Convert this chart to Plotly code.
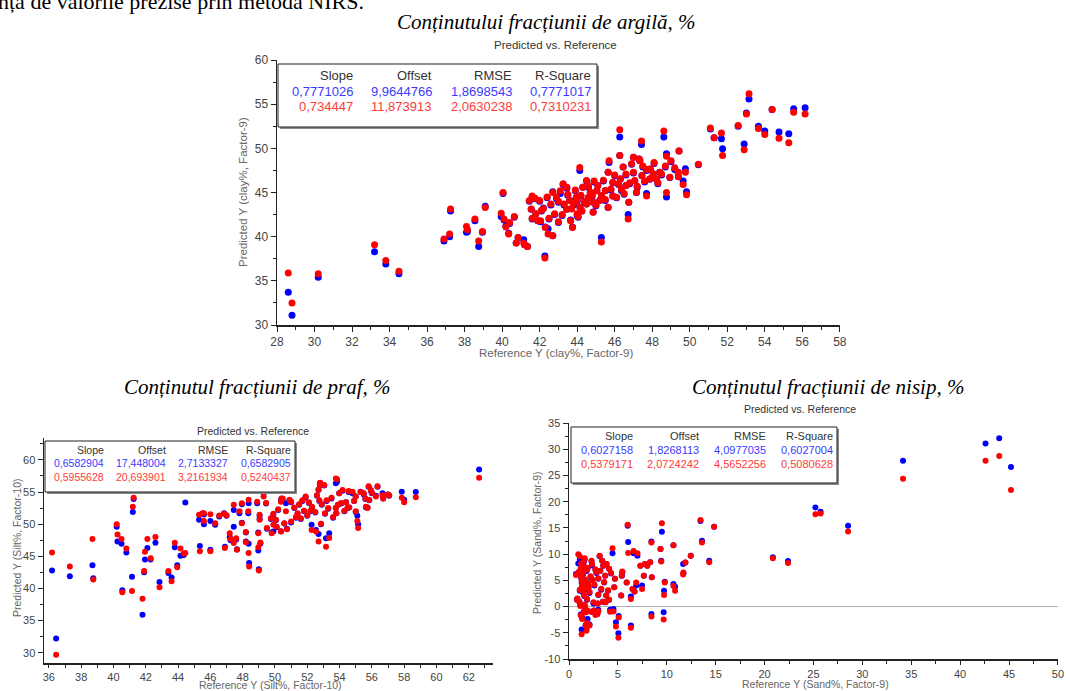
import plotly.graph_objects as go

# ---------------- DATA ----------------
# Clay (argilă): reference, predicted (calibration = blue), predicted (validation = red)
clay_ref = [
    28.6, 28.8, 30.2, 33.2, 33.8, 34.5, 36.9, 37.2, 37.25, 38.1,
    38.15, 38.55, 38.75, 38.95, 39.1, 39.95, 40.05, 40.1, 40.2, 40.35,
    40.4, 40.65, 40.75, 40.85, 41.15, 41.2, 41.35, 41.45, 41.55, 41.6,
    41.75, 41.8, 41.9, 42.0, 42.05, 42.2, 42.28, 42.3, 42.45, 42.6,
    42.7, 42.8, 42.9, 43.1, 43.25, 43.3, 43.45, 43.45, 43.6, 43.65,
    43.7, 43.75, 43.95, 44.0, 44.05, 44.14, 44.15, 44.3, 44.5, 44.5,
    44.6, 44.7, 44.85, 44.85, 45.1, 45.2, 45.3, 45.29, 45.5, 45.65,
    45.65, 45.7, 45.9, 46.1, 46.27, 46.27, 46.3, 46.36, 46.45, 46.6,
    46.72, 46.75, 46.9, 47.0, 47.07, 47.16, 47.3, 47.34, 47.43, 47.45,
    47.7, 47.7, 47.87, 48.05, 48.23, 48.4, 48.62, 48.76, 48.76, 48.94,
    49.38, 49.4, 49.43, 49.65, 49.77, 49.83, 50.46, 51.1, 51.3, 51.69,
    51.75, 52.58, 52.9, 53.02, 53.16, 53.66, 54.0, 54.39, 54.76, 55.28,
    55.54, 56.15, 43.0, 43.2, 43.5, 43.8, 43.9, 44.0, 44.2, 44.25,
    44.4, 44.6, 44.8, 44.9, 45.0, 45.05, 45.4, 45.5, 45.8, 45.9,
    46.0, 46.2, 46.5, 46.6, 46.8, 47.0, 47.2, 47.5, 47.6, 47.9,
    48.1, 48.3, 48.5, 48.7, 49.0, 49.2, 43.0, 42.5, 42.1, 41.6,
    42.4, 42.7,
]
clay_cal = [
    33.7, 31.1, 35.4, 38.3, 36.9, 35.8, 39.5, 40.0, 42.9, 40.5,
    40.6, 41.8, 38.9, 40.5, 43.45, 42.3, 44.9, 41.9, 41.2, 40.4,
    41.5, 42.2, 39.3, 39.9, 39.65, 39.1, 38.9, 44.0, 43.1, 42.0,
    44.3, 42.6, 41.8, 44.0, 41.7, 43.26, 37.8, 41.1, 40.9, 43.6,
    40.1, 42.5, 44.3, 44.9, 45.9, 43.6, 45.5, 43.1, 44.1, 41.9,
    43.2, 41.1, 44.4, 42.4, 42.2, 47.5, 43.3, 45.6, 46.3, 43.7,
    44.4, 45.0, 43.9, 42.8, 45.8, 44.1, 44.5, 39.9, 45.2, 47.3,
    43.3, 48.4, 46.1, 44.4, 51.3, 49.2, 46.5, 45.23, 47.9, 45.8,
    42.5, 43.9, 48.2, 49.0, 46.3, 45.0, 48.8, 48.6, 50.45, 46.9,
    47.5, 44.9, 46.5, 47.1, 46.5, 47.3, 51.3, 49.4, 44.5, 46.7,
    47.3, 46.8, 49.7, 46.3, 47.7, 45.1, 48.15, 52.2, 51.2, 51.1,
    49.97, 52.5, 50.5, 54.0, 55.6, 52.5, 51.97, 54.4, 51.85, 51.67,
    54.5, 54.6, 43.9, 42.4, 44.7, 43.6, 45.2, 44.0, 44.6, 42.9,
    43.9, 45.6, 44.6, 46.2, 43.5, 45.2, 46.3, 44.1, 45.3, 44.6,
    46.9, 45.9, 44.8, 47.0, 46.0, 47.2, 45.6, 47.9, 46.2, 47.6,
    48.3, 46.0, 47.0, 47.9, 48.5, 47.6, 41.6, 42.0, 42.9, 44.5,
    44.4, 45.1,
]
clay_val = [
    35.9, 32.5, 35.8, 39.1, 37.3, 36.1, 39.75, 40.3, 43.15, 41.15,
    40.8, 42.0, 39.5, 40.6, 43.3, 42.65, 45.0, 42.0, 41.1, 40.3,
    41.6, 42.3, 39.3, 39.9, 39.3, 39.1, 38.9, 44.1, 43.15, 42.1,
    44.35, 42.6, 41.8, 44.1, 41.8, 43.2, 37.6, 41.05, 40.3, 43.7,
    40.1, 42.6, 44.46, 45.2, 46.0, 43.7, 45.6, 43.15, 44.1, 41.8,
    43.15, 41.05, 44.46, 42.6, 42.3, 47.84, 43.33, 45.6, 46.36, 43.7,
    44.46, 45.03, 43.9, 42.76, 45.8, 44.1, 44.66, 39.4, 45.23, 47.3,
    43.33, 48.6, 46.17, 44.46, 52.1, 49.2, 46.55, 45.4, 47.88, 45.8,
    42.0, 43.9, 48.26, 49.0, 46.36, 45.03, 48.8, 48.64, 50.85, 46.93,
    47.6, 44.6, 46.55, 47.12, 46.55, 47.31, 51.97, 49.1, 45.0, 46.74,
    47.3, 46.8, 49.7, 45.9, 47.3, 44.75, 48.2, 52.3, 51.2, 51.75,
    49.2, 52.58, 49.85, 53.9, 56.2, 52.24, 51.56, 54.4, 51.14, 50.65,
    54.1, 53.9, 44.0, 42.5, 44.8, 43.7, 45.3, 44.1, 44.7, 42.9,
    44.0, 45.7, 44.7, 46.3, 43.6, 45.2, 46.4, 44.2, 45.4, 44.6,
    47.0, 46.0, 44.9, 47.1, 46.1, 47.3, 45.7, 48.0, 46.3, 47.7,
    48.4, 46.1, 47.1, 48.0, 48.6, 47.8, 41.7, 42.1, 43.0, 44.6,
    44.5, 45.0,
]

# Silt (praf)
silt_ref = [
    36.2, 36.45, 37.3, 38.7, 38.75, 40.2, 40.25, 40.5, 40.55, 40.8,
    41.15, 41.2, 41.25, 41.8, 41.9, 41.95, 42.1, 42.3, 42.6, 42.85,
    43.4, 43.6, 43.8, 43.95, 44.15, 44.35, 44.45, 45.3, 45.35, 45.6,
    45.6, 46.0, 46.0, 46.3, 46.55, 46.85, 46.9, 47.2, 47.25, 47.45,
    47.45, 47.6, 47.65, 47.8, 47.95, 47.95, 48.2, 48.2, 48.35, 48.37,
    48.4, 48.37, 48.9, 48.97, 48.97, 49.0, 49.05, 49.05, 49.1, 49.3,
    49.45, 49.5, 49.75, 49.8, 49.9, 50.06, 50.1, 50.37, 50.4, 50.37,
    50.58, 50.68, 50.74, 51.0, 51.0, 51.2, 51.4, 51.5, 51.6, 51.8,
    51.9, 52.0, 52.1, 52.27, 52.3, 52.5, 52.54, 52.6, 52.7, 52.78,
    52.8, 52.85, 52.9, 53.05, 53.1, 53.16, 53.3, 53.5, 53.6, 53.77,
    53.77, 53.8, 53.84, 53.98, 54.1, 54.18, 54.3, 54.4, 54.56, 54.6,
    54.8, 55.0, 55.1, 55.15, 55.3, 55.5, 55.63, 55.73, 55.8, 55.84,
    55.94, 56.0, 56.25, 56.35, 56.66, 56.7, 57.0, 57.07, 57.85, 58.0,
    58.72, 62.64, 47.0, 45.52, 49.9, 50.2, 50.47, 50.9, 52.7, 52.75,
    53.36, 54.5, 55.0, 51.3, 51.7, 52.2, 53.2, 53.9, 54.9, 55.6,
]
silt_cal = [
    42.8, 32.2, 41.9, 43.6, 41.6, 49.6, 47.3, 46.95, 39.7, 45.6,
    41.8, 51.9, 53.9, 35.9, 42.5, 44.5, 46.3, 44.5, 47.1, 41.0,
    42.4, 41.7, 46.4, 43.6, 45.1, 45.2, 53.35, 50.7, 46.6, 50.0,
    51.5, 50.5, 46.0, 49.9, 51.2, 51.7, 46.5, 48.0, 47.5, 49.6,
    52.2, 47.6, 46.1, 51.7, 53.1, 50.2, 48.7, 47.3, 51.7, 46.95,
    43.95, 53.25, 53.25, 48.7, 45.9, 43.0, 50.8, 51.3, 47.0, 54.8,
    53.2, 49.3, 50.8, 48.7, 48.86, 50.6, 49.5, 53.6, 53.9, 48.9,
    50.1, 53.25, 49.3, 50.25, 53.4, 52.5, 51.6, 53.0, 50.8, 52.0,
    54.2, 51.3, 53.3, 49.9, 52.6, 51.8, 49.1, 54.4, 48.45, 56.1,
    56.4, 50.0, 53.0, 56.0, 51.6, 47.8, 52.4, 54.0, 51.0, 56.35,
    52.5, 51.7, 56.6, 54.8, 53.2, 55.2, 52.0, 53.4, 55.0, 52.6,
    54.8, 54.3, 51.3, 50.0, 55.05, 54.6, 52.6, 52.6, 55.8, 53.7,
    55.2, 54.8, 54.4, 55.8, 54.8, 54.0, 54.6, 54.4, 55.05, 53.8,
    55.0, 58.5, 51.3, 51.6, 51.5, 52.2, 53.9, 53.7, 55.3, 53.6,
    48.6, 52.5, 51.9, 51.0, 53.6, 52.0, 53.6, 53.0, 53.6, 53.9,
]
silt_val = [
    45.6, 29.7, 43.4, 47.7, 41.4, 50.0, 48.4, 47.7, 39.4, 46.2,
    39.6, 52.7, 54.1, 38.4, 42.7, 45.7, 47.7, 44.7, 48.0, 40.2,
    42.7, 41.1, 47.1, 43.3, 46.2, 45.4, 45.5, 51.45, 45.8, 50.5,
    51.7, 51.55, 45.8, 50.15, 51.35, 51.6, 46.3, 48.6, 47.7, 47.05,
    53.0, 47.8, 46.0, 52.0, 53.25, 50.15, 48.76, 47.2, 52.0, 45.5,
    43.4, 53.8, 53.5, 48.6, 46.4, 42.8, 50.7, 51.45, 47.15, 54.3,
    53.3, 49.4, 50.9, 48.6, 49.9, 50.67, 49.6, 53.5, 54.0, 48.86,
    50.15, 52.0, 49.2, 50.4, 53.5, 52.6, 51.7, 53.1, 50.9, 52.1,
    54.3, 51.4, 53.4, 49.1, 52.7, 51.9, 48.86, 54.5, 47.3, 56.25,
    56.45, 50.05, 53.1, 56.1, 51.7, 46.5, 52.5, 54.1, 51.1, 57.1,
    52.5, 51.7, 57.0, 54.8, 53.3, 55.3, 52.1, 53.4, 55.15, 52.6,
    55.05, 54.3, 50.5, 49.4, 55.0, 54.8, 52.7, 52.5, 55.9, 53.77,
    55.3, 54.9, 54.3, 55.9, 54.5, 54.0, 54.6, 54.5, 54.1, 53.4,
    54.2, 57.2, 51.4, 51.7, 51.6, 52.3, 54.0, 53.8, 55.4, 53.7,
    47.83, 52.6, 52.0, 51.1, 53.7, 52.1, 53.7, 53.0, 53.6, 54.0,
]

# Sand (nisip)
sand_ref = [
    0.71, 0.82, 0.95, 1.1, 0.86, 1.06, 1.2, 1.25, 1.3, 1.35,
    1.29, 1.35, 1.4, 1.45, 1.5, 1.55, 1.6, 1.62, 1.65, 1.7,
    1.75, 1.78, 1.8, 1.83, 1.85, 1.9, 1.95, 2.1, 2.1, 2.2,
    2.3, 2.35, 2.3, 2.5, 2.56, 2.6, 2.7, 2.8, 2.9, 2.95,
    3.0, 3.13, 3.2, 3.3, 3.4, 3.46, 3.5, 3.7, 3.74, 3.8,
    3.84, 4.1, 4.1, 4.2, 4.45, 4.55, 4.63, 4.7, 4.8, 5.08,
    5.05, 5.34, 5.4, 5.45, 5.9, 6.0, 6.05, 6.33, 6.33, 6.5,
    6.6, 6.87, 6.7, 7.0, 7.3, 7.47, 7.65, 7.76, 8.0, 8.43,
    8.3, 8.47, 8.43, 9.36, 9.43, 9.5, 9.68, 9.79, 9.72, 10.68,
    10.68, 10.85, 11.67, 11.7, 11.9, 12.45, 13.45, 13.6, 14.34, 14.84,
    20.85, 22.4, 25.2, 25.73, 28.54, 34.16, 42.6, 44.0, 45.2, 1.0,
    1.1, 1.15, 1.2, 1.25, 1.4, 1.5, 1.6, 1.7, 1.75, 1.9,
    2.0, 2.4, 2.7, 3.0, 3.6, 4.3, 4.0, 3.0,
]
sand_cal = [
    6.2, 1.3, 8.2, 9.07, 1.5, 0.9, 7.0, 5.4, 4.6, 3.8,
    -4.35, -2.2, 2.8, 6.2, 8.3, 2.0, 0.2, 5.0, -0.5, -3.5,
    3.3, -4.4, 6.8, -2.45, 1.3, -2.35, 4.3, -3.4, 2.6, 5.6,
    8.6, 7.9, -1.0, 0.6, -0.76, 4.0, -1.2, 6.4, -1.4, 0.6,
    -0.6, 9.6, 6.85, 3.2, 8.75, 0.9, 7.8, 5.9, 0.8, 2.1,
    8.1, 7.2, 1.3, -0.6, 10.15, -0.45, 3.7, 5.3, -3.0, -1.8,
    -5.07, 2.1, 5.9, 6.5, 4.6, 15.4, 12.3, -3.6, 1.9, 3.36,
    10.15, 4.0, 2.85, 9.7, 7.8, 4.0, 5.9, 8.1, 7.8, 12.4,
    8.43, 5.6, -1.4, 11.0, 8.75, 14.27, -1.08, 4.75, 3.04, 11.7,
    4.3, 3.8, 8.1, 6.3, 8.4, 9.7, 16.3, 12.55, 8.75, 15.2,
    9.4, 8.7, 18.9, 18.06, 15.4, 27.8, 31.1, 32.1, 26.6, 6.5,
    3.0, 0.3, -1.5, 8.0, 7.5, -1.0, 9.0, 4.0, -0.9, 7.3,
    3.6, 5.0, 7.0, 5.3, 4.6, 6.3, 3.0, 2.2,
]
sand_val = [
    6.0, 1.3, 10.0, 9.6, 1.56, 0.9, 7.2, 5.6, 4.9, 4.0,
    -5.3, -2.35, 3.0, 6.4, 8.6, 2.2, 0.4, 5.2, -0.3, -3.72,
    3.5, -4.6, 7.0, -3.2, 1.5, -0.76, 4.5, -3.6, 2.8, 5.8,
    8.75, 8.1, -1.0, 0.8, -0.76, 4.2, -1.6, 6.6, -1.4, 0.6,
    -0.9, 9.7, 6.85, 3.4, 8.75, 0.9, 7.8, 5.9, 0.8, 2.1,
    8.1, 7.2, 1.3, -1.0, 11.1, -0.95, 3.7, 5.3, -3.8, -2.1,
    -5.96, 2.1, 5.9, 6.7, 4.6, 15.6, 10.2, -4.06, 1.46, 3.36,
    10.6, 4.6, 2.85, 10.15, 7.8, 3.36, 5.9, 8.1, 7.8, 12.24,
    8.43, 5.6, -1.9, 11.0, 8.6, 15.9, -2.47, 4.6, 2.2, 11.7,
    3.9, 3.0, 6.1, 6.5, 8.4, 9.7, 16.5, 12.24, 8.43, 15.2,
    9.2, 8.3, 17.6, 17.75, 14.33, 24.4, 27.8, 28.7, 22.25, 6.6,
    3.2, 0.1, -1.7, 8.2, 7.6, -1.2, 9.2, 4.2, -1.1, 7.4,
    3.8, 5.1, 7.1, 5.4, 4.7, 6.4, 3.1, 2.3,
]

stat_header = ["Slope", "Offset", "RMSE", "R-Square"]
clay_stats_cal = ["0,7771026", "9,9644766", "1,8698543", "0,7771017"]
clay_stats_val = ["0,734447", "11,873913", "2,0630238", "0,7310231"]
silt_stats_cal = ["0,6582904", "17,448004", "2,7133327", "0,6582905"]
silt_stats_val = ["0,5955628", "20,693901", "3,2161934", "0,5240437"]
sand_stats_cal = ["0,6027158", "1,8268113", "4,0977035", "0,6027004"]
sand_stats_val = ["0,5379171", "2,0724242", "4,5652256", "0,5080628"]

clay_xticks = list(range(28, 59, 2))
clay_yticks = list(range(30, 61, 5))
silt_xticks = list(range(36, 63, 2))
silt_yticks = list(range(30, 61, 5))
sand_xticks = list(range(0, 51, 5))
sand_yticks = list(range(-10, 36, 5))

# ---------------- FIGURE ----------------
W, H = 1066, 691
def PX(x):
    return x / W
def PY(y):
    return 1 - y / H

BLUE = "#0000ff"
RED = "#ff0000"
SANS = "Liberation Sans, Arial, sans-serif"
SERIF = "Liberation Serif, Times New Roman, serif"

fig = go.Figure()

def add_pair(ref, cal, val, xa, ya, size):
    fig.add_trace(go.Scatter(x=ref, y=cal, mode="markers", xaxis=xa, yaxis=ya,
                             marker=dict(color=BLUE, size=size, line=dict(width=0)),
                             hoverinfo="skip", showlegend=False))
    fig.add_trace(go.Scatter(x=ref, y=val, mode="markers", xaxis=xa, yaxis=ya,
                             marker=dict(color=RED, size=size, line=dict(width=0)),
                             hoverinfo="skip", showlegend=False))

add_pair(clay_ref, clay_cal, clay_val, "x", "y", 7)
add_pair(silt_ref, silt_cal, silt_val, "x2", "y2", 6)
add_pair(sand_ref, sand_cal, sand_val, "x3", "y3", 6)

def axis(domain, rng, ticks, minor_dtick, anchor, fsize, zeroline=False, ticklen=5):
    return dict(
        domain=domain, range=rng, anchor=anchor, automargin=False,
        tickmode="array", tickvals=ticks, ticktext=[str(t) for t in ticks],
        showgrid=False, zeroline=zeroline, zerolinecolor="#b0b0b0", zerolinewidth=1.5,
        showline=True, linecolor="#222", linewidth=1.5,
        ticks="outside", ticklen=ticklen, tickcolor="#222", tickwidth=1,
        tickfont=dict(family=SANS, size=fsize, color="#444"),
        minor=dict(tickmode="linear", tick0=ticks[0], dtick=minor_dtick,
                   ticks="outside", ticklen=3, tickcolor="#222", showgrid=False),
        fixedrange=True,
    )

layout = dict(
    width=W, height=H, margin=dict(l=0, r=0, t=0, b=0, pad=0, autoexpand=False),
    paper_bgcolor="white", plot_bgcolor="rgba(0,0,0,0)", showlegend=False,
    xaxis=axis([PX(277), PX(840)], [28, 58.01], clay_xticks, 1, "y", 12),
    yaxis=axis([PY(325), PY(60)], [30, 60.01], clay_yticks, 2.5, "x", 12),
    xaxis2=axis([PX(44), PX(493)], [35.7, 63.5], silt_xticks, 1, "y2", 11, ticklen=3),
    yaxis2=axis([PY(663), PY(438)], [28.4, 63.4], silt_yticks, 2.5, "x2", 11),
    xaxis3=axis([PX(569), PX(1058)], [0, 50.01], sand_xticks, 2.5, "y3", 11, ticklen=4),
    yaxis3=axis([PY(659), PY(423)], [-10, 35.01], sand_yticks, 2.5, "x3", 11, zeroline=True),
)
fig.update_layout(**layout)

annotations = []
shapes = []

def text(x, y, s, size, color, family=SANS, xanchor="center", yanchor="middle", angle=0):
    annotations.append(dict(x=PX(x), y=PY(y), xref="paper", yref="paper", text=s,
                            showarrow=False, xanchor=xanchor, yanchor=yanchor,
                            textangle=angle,
                            font=dict(family=family, size=size, color=color)))

def stats_box(left, top, right, bottom, cols, rows, size, cal, val):
    shapes.append(dict(type="rect", xref="paper", yref="paper",
                       x0=PX(left + 2), x1=PX(right + 2), y0=PY(bottom + 2), y1=PY(top + 2),
                       fillcolor="#8a8a8a", line=dict(width=0), layer="above"))
    shapes.append(dict(type="rect", xref="paper", yref="paper",
                       x0=PX(left), x1=PX(right), y0=PY(bottom), y1=PY(top),
                       fillcolor="white", line=dict(color="#222", width=1), layer="above"))
    for c, h, a, b in zip(cols, stat_header, cal, val):
        text(c, rows[0], h, size, "#333", xanchor="right")
        text(c, rows[1], a, size, "#3b3bff", xanchor="right")
        text(c, rows[2], b, size, "#ff3b3b", xanchor="right")

# cut-off line of body text at the very top
text(-4, 2, "nța de valorile prezise prin metoda NIRS.", 22, "black", family=SERIF,
     xanchor="left", yanchor="middle")

# Titles
text(546, 22, "<i>Conținutului fracțiunii de argilă, %</i>", 21, "black", family=SERIF)
text(555, 45, "Predicted vs. Reference", 11.5, "#333")
text(257, 387, "<i>Conținutul fracțiunii de praf, %</i>", 21, "black", family=SERIF)
text(253, 431, "Predicted vs. Reference", 10.5, "#333")
text(828, 387, "<i>Conținutul fracțiunii de nisip, %</i>", 21, "black", family=SERIF)
text(800, 409, "Predicted vs. Reference", 10.5, "#333")

# Axis titles
text(243, 192, "Predicted Y (clay%, Factor-9)", 11.5, "#666", angle=-90)
text(556, 353, "Reference Y (clay%, Factor-9)", 11.5, "#666")
text(17, 548, "Predicted Y (Silt%, Factor-10)", 10.5, "#666", angle=-90)
text(270, 685, "Reference Y (Silt%, Factor-10)", 10.5, "#666")
text(537, 543, "Predicted Y (Sand%, Factor-9)", 10.5, "#666", angle=-90)
text(815, 684, "Reference Y (Sand%, Factor-9)", 10.5, "#666")

# Statistic boxes
stats_box(278, 64, 597, 127, [355, 434, 514, 593], [75, 91, 107], 13,
          clay_stats_cal, clay_stats_val)
stats_box(45, 441, 295, 492, [106, 168, 230, 293], [450, 463, 477], 10.5,
          silt_stats_cal, silt_stats_val)
stats_box(571, 427, 837, 483, [635, 701, 768, 835], [436, 450, 464], 11,
          sand_stats_cal, sand_stats_val)

fig.update_layout(annotations=annotations, shapes=shapes)
fig.write_html("out.html", config={"displayModeBar": False, "staticPlot": True},
               post_script="document.body.style.margin='0';document.body.style.overflow='hidden';")
